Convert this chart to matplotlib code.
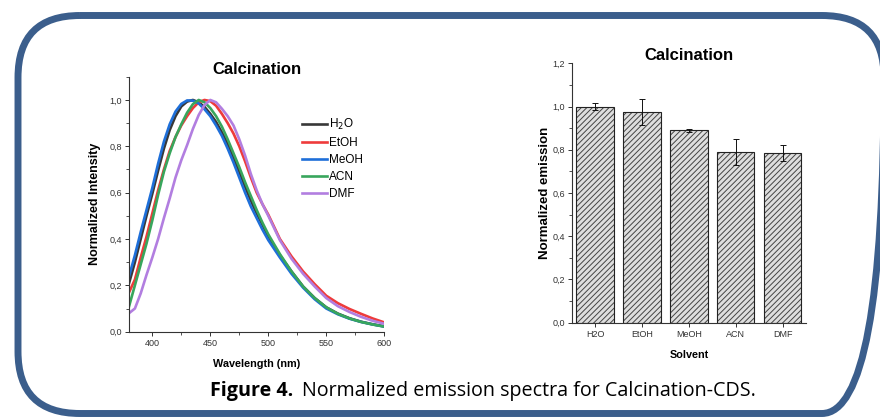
import matplotlib
matplotlib.use('Agg')
import matplotlib.pyplot as plt
from matplotlib.patches import FancyBboxPatch
from matplotlib.ticker import MultipleLocator, FuncFormatter

plt.rcParams['font.family'] = ['Liberation Sans', 'DejaVu Sans']
plt.rcParams['hatch.linewidth'] = 0.7
CAPTION_FONT = ['Open Sans', 'DejaVu Sans']

# emission spectra
wavelength = [380, 385, 390, 395, 400, 405, 410, 415, 420, 425, 430, 435, 440,
              445, 450, 455, 460, 465, 470, 475, 480, 485, 490, 495, 500,
              510, 520, 530, 540, 550, 560, 570, 580, 590, 600]
h2o  = [0.21, 0.30, 0.40, 0.50, 0.595, 0.695, 0.79, 0.87, 0.93, 0.972, 0.993, 1.0, 0.99,
        0.97, 0.94, 0.905, 0.86, 0.81, 0.75, 0.69, 0.625, 0.565, 0.51, 0.46, 0.41,
        0.33, 0.26, 0.195, 0.145, 0.105, 0.078, 0.058, 0.043, 0.032, 0.023]
etoh = [0.17, 0.225, 0.32, 0.41, 0.51, 0.61, 0.70, 0.78, 0.84, 0.89, 0.93, 0.965, 0.99,
        1.0, 0.995, 0.975, 0.94, 0.90, 0.855, 0.80, 0.735, 0.665, 0.60, 0.55, 0.505,
        0.40, 0.325, 0.26, 0.205, 0.155, 0.123, 0.098, 0.077, 0.057, 0.04]
meoh = [0.24, 0.33, 0.43, 0.525, 0.62, 0.725, 0.82, 0.895, 0.95, 0.983, 0.998, 0.997, 0.985,
        0.96, 0.93, 0.89, 0.845, 0.79, 0.73, 0.665, 0.60, 0.54, 0.49, 0.44, 0.395,
        0.32, 0.25, 0.19, 0.14, 0.10, 0.075, 0.056, 0.042, 0.031, 0.022]
acn  = [0.11, 0.20, 0.29, 0.38, 0.48, 0.59, 0.69, 0.77, 0.84, 0.895, 0.945, 0.982, 1.0,
        0.99, 0.965, 0.93, 0.885, 0.83, 0.77, 0.71, 0.645, 0.585, 0.525, 0.47, 0.42,
        0.335, 0.26, 0.195, 0.145, 0.105, 0.077, 0.057, 0.042, 0.031, 0.022]
dmf  = [0.08, 0.10, 0.165, 0.245, 0.32, 0.40, 0.49, 0.575, 0.665, 0.74, 0.805, 0.875, 0.935,
        0.978, 1.0, 0.99, 0.962, 0.93, 0.89, 0.83, 0.76, 0.68, 0.61, 0.55, 0.50,
        0.395, 0.315, 0.25, 0.195, 0.145, 0.11, 0.085, 0.064, 0.047, 0.034]

spectra = [('H$_2$O', h2o, '#383838'), ('EtOH', etoh, '#ee3b3b'), ('MeOH', meoh, '#1e6fd9'),
           ('ACN', acn, '#38a65c'), ('DMF', dmf, '#b27ee0')]

# bar chart
solvents     = ['H2O', 'EtOH', 'MeOH', 'ACN', 'DMF']
emission     = [1.0, 0.975, 0.89, 0.79, 0.785]
emission_err = [0.016, 0.062, 0.008, 0.06, 0.038]

comma = FuncFormatter(lambda v, p: f'{v:.1f}'.replace('.', ','))

def style_axes(ax):
    for side in ['top', 'right']:
        ax.spines[side].set_visible(False)
    for side in ['left', 'bottom']:
        ax.spines[side].set_linewidth(0.8)
        ax.spines[side].set_color('#333333')
    ax.tick_params(which='major', direction='out', length=3, width=0.7, labelsize=6.5, pad=2, colors='#333333')
    ax.tick_params(which='minor', direction='out', length=2, width=0.6, colors='#333333')
    ax.yaxis.set_major_formatter(comma)
    ax.yaxis.set_minor_locator(MultipleLocator(0.1))

fig = plt.figure(figsize=(8.8, 4.18), dpi=100)

# frame and caption, drawn in pixel coordinates
bg = fig.add_axes([0, 0, 1, 1])
bg.set_xlim(0, 880)
bg.set_ylim(418, 0)
bg.axis('off')
bg.add_patch(FancyBboxPatch((18, 15.5), 866, 398, boxstyle='round,pad=0,rounding_size=62',
                            facecolor='none', edgecolor='#3b5e8c', linewidth=5.0))
t = bg.text(210, 396, 'Figure 4.', fontsize=14.2, fontweight='bold', family=CAPTION_FONT,
            ha='left', va='baseline')
fig.canvas.draw()
x1 = t.get_window_extent().x1
bg.text(x1 + 9, 396, 'Normalized emission spectra for Calcination-CDS.', fontsize=14.2,
        family=CAPTION_FONT, ha='left', va='baseline')

# left: spectra
ax1 = fig.add_axes([0.1467, 0.2065, 0.29, 0.6098])
for label, values, colour in spectra:
    ax1.plot(wavelength, values, color=colour, linewidth=1.9, label=label)
ax1.set_xlim(380, 600)
ax1.set_ylim(0, 1.1)
ax1.set_yticks([0, 0.2, 0.4, 0.6, 0.8, 1.0])
ax1.set_xticks([400, 450, 500, 550, 600])
ax1.xaxis.set_minor_locator(MultipleLocator(25))
style_axes(ax1)
ax1.set_xlabel('Wavelength (nm)', fontsize=7.8, fontweight='bold', labelpad=8)
ax1.set_ylabel('Normalized Intensity', fontsize=9, fontweight='bold', labelpad=6)
ax1.set_title('Calcination', fontsize=12, fontweight='bold', pad=2)
ax1.legend(loc='upper left', bbox_to_anchor=(0.66, 0.86), frameon=False, borderaxespad=0,
           prop={'size': 8.5}, handlelength=2.1, handletextpad=0.15, labelspacing=0.42)

# right: bars
ax2 = fig.add_axes([0.6497, 0.228, 0.2662, 0.6206])
pos = list(range(1, len(solvents) + 1))
ax2.bar(pos, emission, width=0.8, color='#dedede', edgecolor='#444444', linewidth=0,
        hatch='//////', zorder=2)
ax2.bar(pos, emission, width=0.8, fill=False, edgecolor='#222222', linewidth=0.8, zorder=3)
ax2.errorbar(pos, emission, yerr=emission_err, fmt='none', ecolor='#111111', elinewidth=0.7,
             capsize=2.5, capthick=0.7, zorder=4)
ax2.set_xlim(0.5, 5.5)
ax2.set_ylim(0, 1.2)
ax2.set_xticks(pos)
ax2.set_xticklabels(solvents)
ax2.set_yticks([0, 0.2, 0.4, 0.6, 0.8, 1.0, 1.2])
style_axes(ax2)
ax2.set_xlabel('Solvent', fontsize=7.8, fontweight='bold', labelpad=8)
ax2.set_ylabel('Normalized emission', fontsize=9.5, fontweight='bold', labelpad=1)
ax2.set_title('Calcination', fontsize=12, fontweight='bold', pad=2)

fig.savefig('out.png', dpi=100)
